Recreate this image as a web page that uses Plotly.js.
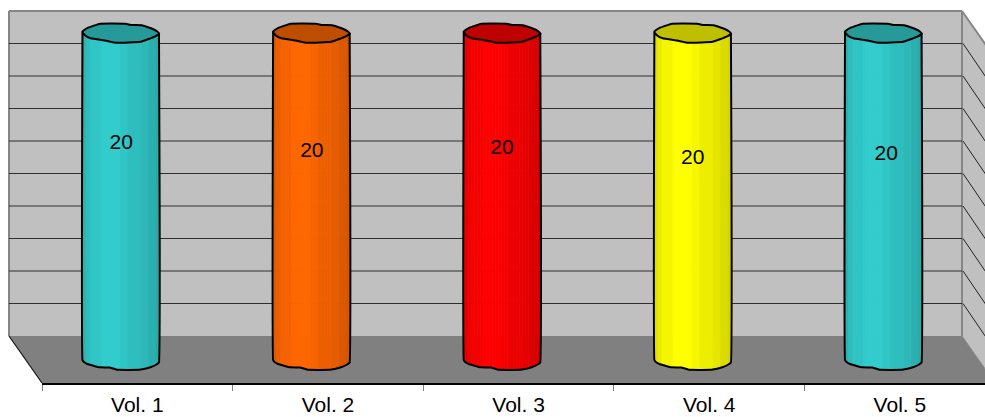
<!DOCTYPE html>
<html><head><meta charset="utf-8">
<script src="https://cdn.plot.ly/plotly-3.0.1.min.js"></script>
<style>html,body{margin:0;padding:0;background:#fff;overflow:hidden}#c{width:985px;height:417px}</style>
</head><body><div id="c"></div>
<script>
// data
const categories = ['Vol. 1','Vol. 2','Vol. 3','Vol. 4','Vol. 5'];
const values = [20,20,20,20,20];
const labelHeights = [13.23,12.78,12.93,12.33,12.58];
const labelShift = [0.5,0.5,0,0,3];
const seriesColors = [[51,204,204],[255,102,0],[255,0,0],[255,255,0],[51,204,204]];
const gridValues = [2,4,6,8,10,12,14,16,18];

// scales (page pixels)
const W=985,H=417,L=42,B=383;
const unitX=190.6, unitY=16.4, zeroY=361, wallUnit=16.25, wallZero=336;
const depth=-16.6, cylW=76.5;
const xr=[-0.5,(W-137.5)/unitX];
const yr=[(zeroY-B)/unitY,zeroY/unitY];
const y2r=[(wallZero-B)/wallUnit,wallZero/wallUnit];
const px=v=>(v-L)/(W-L), py=v=>(B-v)/B;

// cylinder look: shade bands over the width [upto px, factor]
const bands=[[3,.87],[7.5,.92],[9,.97],[18,.96],[19.5,.99],[38,1],[45,.97],[58,.93],[66,.9],[73,.86],[99,.83]];
const bottomCurve=[[0,-1],[1.5,1],[5,3],[17,6.3],[27,6.5],[35,8.8],[57,8.8],[68,6.3],[74,3.5],[76.5,1.5]];
const capOutline=[[-38.5,-1],[-36.5,-3],[-32.5,-5.3],[-20.5,-9.3],[4.5,-9.3],[11,-8],[21,-7.8],[32,-4],[36.5,-1.5],[38.5,.6],[34,3.6],[20,8.8],[-4,9.8],[-15.5,7.6],[-30,5.3],[-35.5,2.5],[-38.5,-1]];
const shade=f=>bands.find(b=>f<=b[0])[1];
const curveAt=f=>{for(let k=1;k<bottomCurve.length;k++){const a=bottomCurve[k-1],b=bottomCurve[k];
  if(f<=b[0])return a[1]+(b[1]-a[1])*(f-a[0])/(b[0]-a[0]);}return 1;};
const rgb=(c,f)=>`rgb(${c.map(v=>Math.round(v*f)).join(',')})`;

const traces=[];
// hidden trace keeps the wall scale alive
traces.push({type:'scatter',x:[0],y:[0],yaxis:'y2',mode:'none',hoverinfo:'skip',showlegend:false});
// body strips
const step=1.5;
for(let s=0;s<cylW;s+=step){
  const drop=Math.min(curveAt(s),curveAt(s+step))/unitY;
  traces.push({type:'bar',x:categories.map((_,i)=>i),y:values.map(v=>v+drop),base:values.map(()=>-drop),
    offset:(depth-cylW/2+s)/unitX,width:(step+.6)/unitX,
    marker:{color:seriesColors.map(c=>rgb(c,shade(s+step/2))),line:{width:0}},hoverinfo:'skip',showlegend:false});
}
// outline and cap
categories.forEach((_,i)=>{
  const cx=i+depth/unitX;
  const ox=[-cylW/2/unitX+cx],oy=[values[i]];
  bottomCurve.forEach(p=>{ox.push(cx+(p[0]-cylW/2)/unitX);oy.push(-p[1]/unitY);});
  ox.push(cx+cylW/2/unitX);oy.push(values[i]);
  traces.push({type:'scatter',mode:'lines',x:ox,y:oy,line:{color:'#000',width:2,shape:'spline',smoothing:.2},hoverinfo:'skip',showlegend:false});
  traces.push({type:'scatter',mode:'lines',fill:'toself',fillcolor:rgb(seriesColors[i],.75),
    x:capOutline.map(p=>cx+p[0]/unitX),y:capOutline.map(p=>values[i]-p[1]/unitY),
    line:{color:'#000',width:2,shape:'spline',smoothing:.3},hoverinfo:'skip',showlegend:false});
});
// value labels
traces.push({type:'scatter',mode:'text',x:categories.map((_,i)=>i+(depth+labelShift[i])/unitX),y:labelHeights,
  text:values.map(String),textposition:'middle center',textfont:{family:'Liberation Sans',size:21,color:'#000'},
  hoverinfo:'skip',showlegend:false});

// room
const poly=(pts,fill)=>({type:'path',xref:'paper',yref:'paper',layer:'below',fillcolor:fill,line:{width:0},
  path:'M'+pts.map(p=>px(p[0])+' '+py(p[1])).join('L')+'Z'});
const seg=(a,b,color,w)=>({type:'line',xref:'paper',yref:'paper',layer:'below',x0:px(a[0]),y0:py(a[1]),x1:px(b[0]),y1:py(b[1]),line:{color,width:w}});
const shapes=[
  poly([[9,11],[962,11],[962,336],[9,336]],'#c0c0c0'),
  poly([[962,11],[995,58],[995,383],[962,336]],'#c0c0c0'),
  poly([[9,336],[962,336],[995,383],[42,383]],'#808080'),
  seg([9,11],[962,11],'#868686',2),seg([9,11],[9,336],'#868686',2),
  seg([962,11],[962,336],'#868686',2),seg([962,11],[995,58],'#868686',2),
  seg([962,336],[995,383],'#868686',1),
  seg([9,336],[42,383],'#111',1.2)
];
const slope=47/wallUnit;
gridValues.forEach(g=>{
  shapes.push({type:'line',layer:'below',xref:'paper',yref:'y2',x0:px(9),x1:px(962),y0:g,y1:g,line:{color:'#2e2e2e',width:1.2}});
  shapes.push({type:'line',layer:'below',xref:'paper',yref:'y2',x0:px(963),x1:px(995),y0:g,y1:g-slope,line:{color:'#222',width:1}});
});

const layout={width:W,height:H,margin:{l:L,r:0,t:0,b:H-B,pad:0},paper_bgcolor:'#fff',plot_bgcolor:'rgba(0,0,0,0)',
  barmode:'overlay',showlegend:false,
  xaxis:{type:'linear',range:xr,tickmode:'array',tickvals:categories.map((_,i)=>i),ticktext:categories,ticks:'',ticklen:0,ticklabelstandoff:2,
    tickfont:{family:'Liberation Sans',size:21,color:'#000'},showgrid:false,zeroline:false,showline:true,linecolor:'#000',linewidth:1.5,
    minor:{tickmode:'array',tickvals:[-.5,.5,1.5,2.5,3.5,4.5],ticks:'outside',ticklen:6,tickcolor:'#808080',tickwidth:1,showgrid:false}},
  yaxis:{range:yr,visible:false,fixedrange:true},
  yaxis2:{range:y2r,visible:false,overlaying:'y',fixedrange:true},
  shapes};
Plotly.newPlot('c',traces,layout,{displayModeBar:false,staticPlot:true});
</script></body></html>
